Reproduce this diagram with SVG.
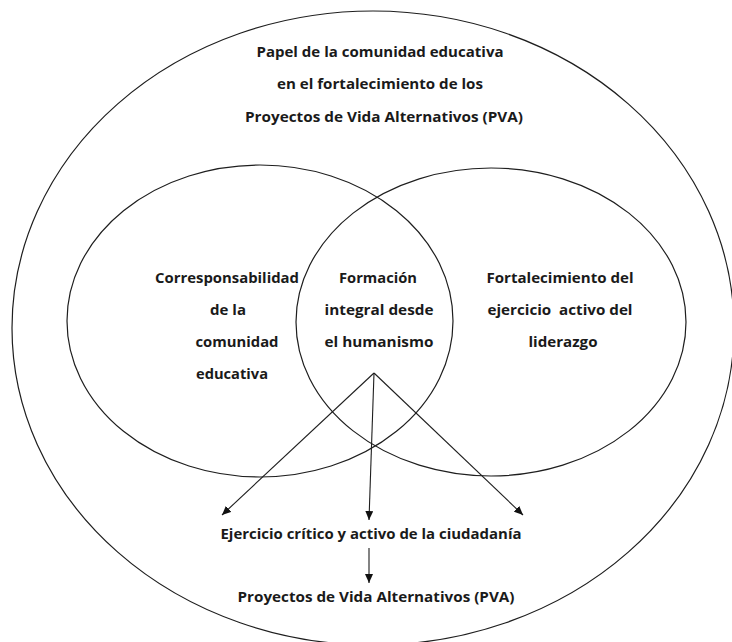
<svg xmlns="http://www.w3.org/2000/svg" width="732" height="642" viewBox="0 0 732 642">
  <style>
    .shape { fill: none; stroke: #1e1e1e; stroke-width: 1.2; }
    .conn { fill: none; stroke: #1e1e1e; stroke-width: 1.1; }
    text { font-family: "Open Sans", "Liberation Sans", sans-serif; font-weight: 700; font-size: 15px; fill: #1a1a1a; text-anchor: middle; }
  </style>
  <defs>
    <marker id="arrow" markerUnits="userSpaceOnUse" markerWidth="10" markerHeight="8" refX="9" refY="4" orient="auto">
      <path d="M0,0 L9,4 L0,8 Z" fill="#111"/>
    </marker>
  </defs>
  <rect width="732" height="642" fill="#ffffff"/>

  <g id="outer">
    <ellipse class="shape" cx="373" cy="328" rx="361" ry="317"/>
    <text x="380" y="57" textLength="247" lengthAdjust="spacingAndGlyphs">Papel de la comunidad educativa</text>
    <text x="380" y="89" textLength="206" lengthAdjust="spacingAndGlyphs">en el fortalecimiento de los</text>
    <text x="384" y="122" textLength="278" lengthAdjust="spacingAndGlyphs">Proyectos de Vida Alternativos (PVA)</text>
  </g>

  <g id="left-circle">
    <ellipse class="shape" cx="260" cy="321" rx="193" ry="156"/>
    <text x="227" y="283" textLength="144" lengthAdjust="spacingAndGlyphs">Corresponsabilidad</text>
    <text x="228" y="315">de la</text>
    <text x="237" y="347" textLength="83" lengthAdjust="spacingAndGlyphs">comunidad</text>
    <text x="232" y="379" textLength="72" lengthAdjust="spacingAndGlyphs">educativa</text>
  </g>

  <g id="right-circle">
    <ellipse class="shape" cx="491" cy="322" rx="195" ry="154"/>
    <text x="560" y="283" textLength="147" lengthAdjust="spacingAndGlyphs">Fortalecimiento del</text>
    <text x="560" y="315" textLength="145" lengthAdjust="spacingAndGlyphs" style="white-space:pre">ejercicio  activo del</text>
    <text x="563" y="347" textLength="69" lengthAdjust="spacingAndGlyphs">liderazgo</text>
  </g>

  <g id="intersection">
    <text x="378" y="283" textLength="78" lengthAdjust="spacingAndGlyphs">Formación</text>
    <text x="379" y="315" textLength="109" lengthAdjust="spacingAndGlyphs">integral desde</text>
    <text x="379" y="347" textLength="109" lengthAdjust="spacingAndGlyphs">el humanismo</text>
  </g>

  <g id="ciudadania">
    <text x="371" y="539" textLength="301" lengthAdjust="spacingAndGlyphs">Ejercicio crítico y activo de la ciudadanía</text>
  </g>

  <g id="pva">
    <text x="376" y="602" textLength="277" lengthAdjust="spacingAndGlyphs">Proyectos de Vida Alternativos (PVA)</text>
  </g>

  <g id="connectors">
    <line class="conn" x1="374" y1="373" x2="222" y2="515" marker-end="url(#arrow)"/>
    <line class="conn" x1="374" y1="373" x2="369" y2="520" marker-end="url(#arrow)"/>
    <line class="conn" x1="374" y1="373" x2="523" y2="515" marker-end="url(#arrow)"/>
    <line class="conn" x1="369" y1="548" x2="369" y2="583" marker-end="url(#arrow)"/>
  </g>
</svg>
